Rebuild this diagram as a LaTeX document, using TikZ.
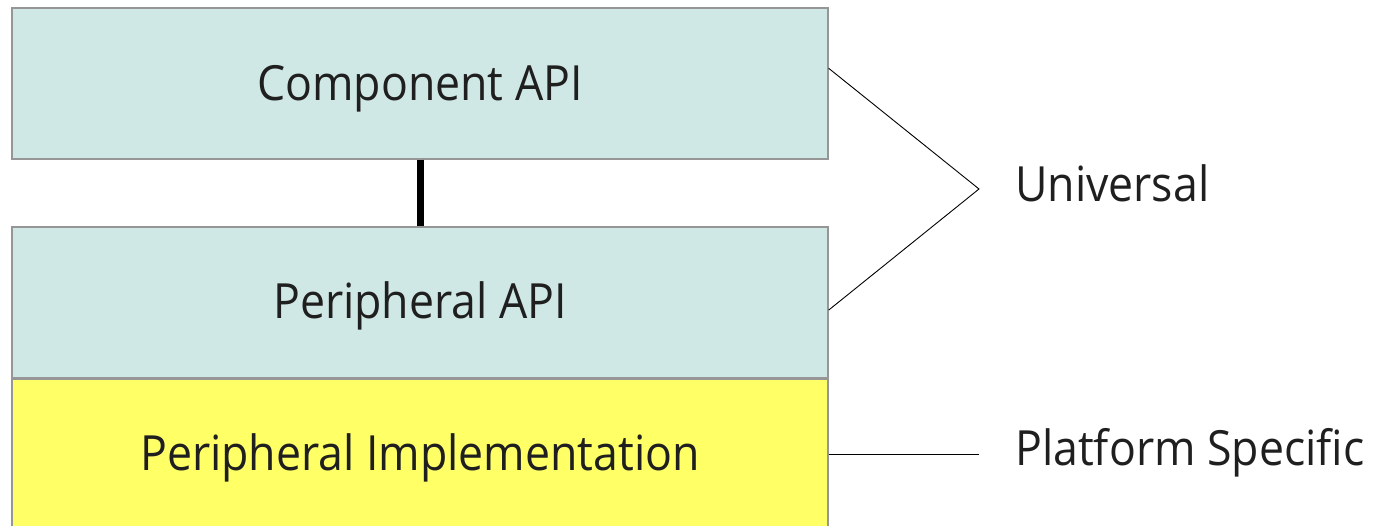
\documentclass[tikz,border=0pt]{standalone}
\usepackage{fontspec}
\setmainfont{Open Sans}[FakeStretch=0.92]
\usetikzlibrary{calc}
\definecolor{tealbox}{HTML}{D0E8E5}
\definecolor{yellowbox}{HTML}{FFFF66}
\definecolor{edgegray}{HTML}{969696}
\begin{document}
\begin{tikzpicture}[x=1pt,y=-1pt,
  layer/.style={draw=edgegray, line width=1.3pt, minimum width=816pt, minimum height=151pt, inner sep=0pt},
  txt/.style={anchor=base, inner sep=0pt, font=\fontsize{48.5}{52}\selectfont, text=black!88},
  label/.style={anchor=base west, inner sep=0pt, font=\fontsize{48.5}{52}\selectfont, text=black!88},
  thin/.style={line width=0.9pt, black}]
\useasboundingbox (0,0) rectangle (1375,526);
\clip (0,0) rectangle (1375,526);
\node[layer, fill=yellowbox] (impl) at (420,455) {};
\node[layer, fill=tealbox] (papi) at (420,302.5) {};
\node[layer, fill=tealbox] (capi) at (420,83.5) {};
\node[txt] (capitext) at (420,101) {Component API};
\node[txt] (papitext) at (420,319) {Peripheral API};
\node[txt] (impltext) at (420,470) {Peripheral Implementation};
\draw[line width=7pt] (capi.south) -- (papi.north);
\coordinate (apex) at (979,189);
\coordinate (pend) at (979,454);
\draw[thin] ($(capi.north east)!0.4!(capi.south east)$) -- (apex) -- ($(papi.north east)!0.55!(papi.south east)$);
\draw[thin] (impl.east |- pend) -- (pend);
\node[label] (univ) at (1015,202) {Universal};
\node[label] (plat) at (1015,465) {Platform Specific};
\end{tikzpicture}
\end{document}
